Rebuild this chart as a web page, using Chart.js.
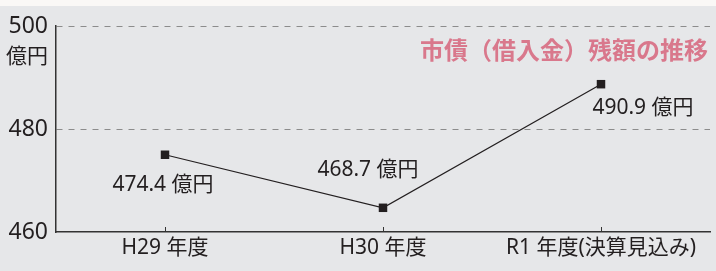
<!DOCTYPE html>
<html lang="ja">
<head>
<meta charset="utf-8">
<script src="https://cdn.jsdelivr.net/npm/chart.js@4.4.1/dist/chart.umd.min.js"></script>
<style>
  html, body { margin: 0; padding: 0; }
  #wrap {
    width: 716px;
    height: 271px;
    background: linear-gradient(#faf8f6 0 6px, #e6e7e9 6px);
  }
</style>
</head>
<body>
<div id="wrap"><canvas id="chart" width="716" height="271"></canvas></div>
<script>
// 市債残額の推移
const categories = ["H29 年度", "H30 年度", "R1 年度(決算見込み)"];
const values = [475.0, 464.7, 488.7];
const valueLabels = ["474.4 億円", "468.7 億円", "490.9 億円"];
const yTicks = [460, 480, 500];
const yUnit = "億円";
const chartTitle = "市債（借入金）残額の推移";

const textColor = "#231f20";
const font = '"Noto Sans", "Noto Sans CJK JP", sans-serif';
const titleFont = '"Noto Sans CJK JP", sans-serif';

// ラベルや見出しを描くプラグイン
const annotate = {
  id: "annotate",
  afterDraw(chart) {
    const { ctx, chartArea, scales } = chart;
    const x = scales.x;
    ctx.save();

    // x軸の目盛り（内向き）
    ctx.strokeStyle = "#333";
    ctx.lineWidth = 1;
    x.ticks.forEach((t, i) => {
      const px = Math.round(x.getPixelForTick(i)) + 0.5;
      ctx.beginPath();
      ctx.moveTo(px, chartArea.bottom);
      ctx.lineTo(px, chartArea.bottom - 5);
      ctx.stroke();
    });

    // 単位
    ctx.fillStyle = textColor;
    ctx.font = "21px " + font;
    ctx.textAlign = "right";
    ctx.textBaseline = "middle";
    ctx.fillText(yUnit, chartArea.left - 8, 57);

    // 値ラベル
    const offsets = [[-2, 30], [-15, -38], [42, 24]];
    const meta = chart.getDatasetMeta(0);
    ctx.font = "21px " + font;
    ctx.textAlign = "center";
    meta.data.forEach((pt, i) => {
      ctx.fillText(valueLabels[i], pt.x + offsets[i][0], pt.y + offsets[i][1]);
    });

    // 見出し
    ctx.fillStyle = "#d9788c";
    ctx.font = "bold 24px " + titleFont;
    ctx.textAlign = "right";
    ctx.fillText(chartTitle, 708, 50);
    ctx.restore();
  },
};

new Chart(document.getElementById("chart"), {
  type: "line",
  data: {
    labels: categories,
    datasets: [
      {
        data: values,
        borderColor: textColor,
        borderWidth: 1.2,
        backgroundColor: textColor,
        pointStyle: "rect",
        pointRadius: 6,
        pointBorderWidth: 0,
        tension: 0,
      },
    ],
  },
  options: {
    responsive: false,
    animation: false,
    layout: { padding: { top: 26, right: 6, left: 0, bottom: 0 } },
    plugins: {
      legend: { display: false },
      tooltip: { enabled: false },
    },
    scales: {
      x: {
        offset: true,
        grid: { display: false, drawTicks: false },
        border: { display: true, color: "#333", width: 1.5 },
        ticks: {
          color: textColor,
          font: { family: font, size: 21 },
          padding: 3,
          maxRotation: 0,
          autoSkip: false,
        },
        afterFit: (s) => { s.height = 271 - 232; },
      },
      y: {
        min: 460,
        max: 500,
        afterBuildTicks: (s) => { s.ticks = yTicks.map((v) => ({ value: v })); },
        grid: {
          drawTicks: false,
          color: (c) => (c.tick && c.tick.value === 460 ? "transparent" : "#8c8c8c"),
          lineWidth: 1,
        },
        border: { display: true, color: "#333", width: 1.5, dash: [6, 6] },
        ticks: {
          color: textColor,
          font: { family: font, size: 23 },
          padding: 8,
        },
        afterFit: (s) => { s.width = 56; },
      },
    },
  },
  plugins: [annotate],
});
</script>
</body>
</html>
